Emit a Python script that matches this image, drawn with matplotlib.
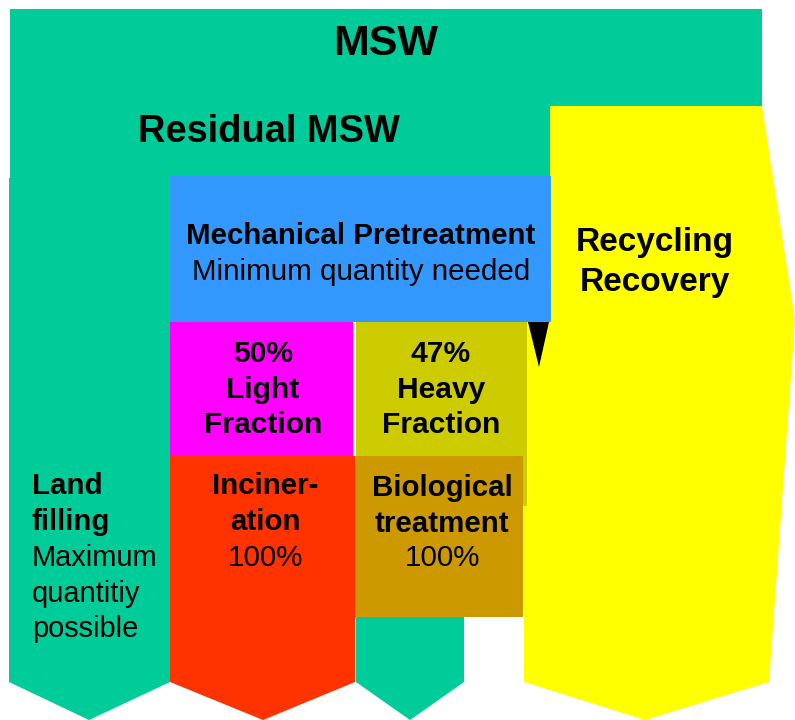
import matplotlib
matplotlib.use("Agg")
import matplotlib.pyplot as plt
from matplotlib.patches import Polygon

plt.rcParams['font.family'] = ['Liberation Sans', 'DejaVu Sans']

# ---- diagram data (blocks: name, colour, outline vertices in pixel space) ----
GREEN = "#00CC99"
block_names = ["msw_top", "residual", "landfill", "mid_green", "yellow", "blue",
               "light", "heavy", "incin", "bio", "triangle"]
block_colors = [GREEN, GREEN, GREEN, GREEN, "#FFFF00", "#3399FF",
                "#FF00FF", "#CCCC00", "#FF3300", "#CC9900", "#000000"]
block_shapes = [
    [(10, 9), (762, 9), (762, 107), (10, 107)],
    [(10, 106), (550, 106), (550, 179), (10, 179)],
    [(9, 178), (170, 178), (170, 682), (89, 720), (9, 682)],
    [(356, 600), (464, 600), (464, 682), (410, 720), (356, 682)],
    [(550, 106), (762, 106), (795, 320), (769, 682), (645, 720), (524, 682), (524, 322), (550, 322)],
    [(170, 176), (551, 176), (551, 322), (170, 322)],
    [(170, 322), (353, 322), (353, 456), (170, 456)],
    [(356, 322), (527, 322), (527, 506), (356, 506)],
    [(170, 456), (355, 456), (355, 682), (263, 720), (170, 682)],
    [(355, 456), (523, 456), (523, 617), (355, 617)],
    [(528, 322), (549, 322), (539, 367)],
]

# ---- text labels ----
titles = ["MSW", "Residual MSW"]
pretreat = ["Mechanical Pretreatment", "Minimum quantity needed"]
recycling = ["Recycling", "Recovery"]
light = ["50%", "Light", "Fraction"]
heavy = ["47%", "Heavy", "Fraction"]
landfill_bold = ["Land", "filling"]
landfill_reg = ["Maximum", "quantitiy", "possible"]
incin_bold = ["Inciner-", "ation"]
bio_bold = ["Biological", "treatment"]
share_full = "100%"

W, H = 795, 720
fig = plt.figure(figsize=(W / 100, H / 100), dpi=100)
ax = fig.add_axes([0, 0, 1, 1])
ax.set_xlim(0, W)
ax.set_ylim(H, 0)
ax.axis("off")

for name, col, pts in zip(block_names, block_colors, block_shapes):
    ax.add_patch(Polygon(pts, closed=True, facecolor=col, edgecolor="none"))

PX = 0.72  # px -> pt at 100 dpi
DY = 3


def txt(s, x, y, size_px, bold=True, ha="center"):
    ax.text(x, y + DY, s, fontsize=size_px * PX, fontweight="bold" if bold else "normal",
            ha=ha, va="center", color="black")


S = 29.5
txt(titles[0], 386, 41, 43)
txt(titles[1], 269, 129, 38)
txt(pretreat[0], 361, 233, S)
txt(pretreat[1], 361, 269, S, bold=False)
for i, s in enumerate(recycling):
    txt(s, 655, 239 + i * 41, 33.5)
LS = 35.5
for i, s in enumerate(light):
    txt(s, 263, 351 + i * LS, 30)
for i, s in enumerate(heavy):
    txt(s, 441, 351 + i * LS, 30)
for i, s in enumerate(landfill_bold):
    txt(s, 32, 483 + i * LS, S, ha="left")
for i, s in enumerate(landfill_reg):
    txt(s, 32, 555 + i * LS, 29, bold=False, ha="left")
for i, s in enumerate(incin_bold):
    txt(s, 265, 483 + i * LS, S)
txt(share_full, 265, 555, S, bold=False)
for i, s in enumerate(bio_bold):
    txt(s, 442, 485 + i * LS, S)
txt(share_full, 442, 555, S, bold=False)

fig.savefig("out.png", dpi=100)
